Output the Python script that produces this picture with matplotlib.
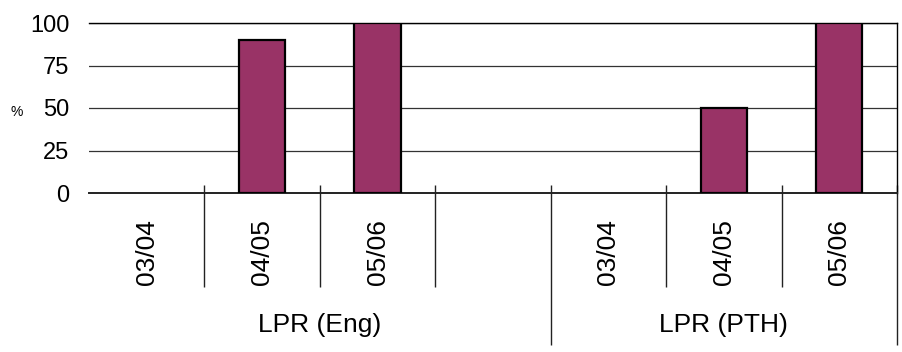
import matplotlib.pyplot as plt
from matplotlib.transforms import blended_transform_factory

plt.rcParams['font.family'] = ['Liberation Sans', 'DejaVu Sans']

# one slot per year, an empty slot closes the first group
years = ['03/04', '04/05', '05/06', '', '03/04', '04/05', '05/06']
values = [0, 90, 100, 0, 0, 50, 100]
groups = ['LPR (Eng)', 'LPR (PTH)']
group_spans = [(0, 3), (4, 6)]
yticks = [0, 25, 50, 75, 100]

fig = plt.figure(figsize=(9.03, 3.52), dpi=100)
ax = fig.add_axes([89 / 903, 159 / 352, 808 / 903, 170 / 352])

x = list(range(len(years)))
edges = ['black' if v > 0 else 'none' for v in values]
ax.bar(x, values, width=0.4, color='#993366', edgecolor=edges, linewidth=1.6, zorder=3)

ax.set_xlim(-0.5, len(years) - 0.5)
ax.set_ylim(0, 100)
ax.set_yticks(yticks)
ax.set_yticklabels([str(t) for t in yticks], fontsize=17)
ax.tick_params(axis='y', length=0, pad=14)
ax.set_xticks([])
ax.yaxis.grid(True, color='#333333', linewidth=0.9, zorder=0)
ax.set_axisbelow(True)

ax.spines['left'].set_visible(False)
ax.spines['top'].set_linewidth(1.0)
ax.spines['right'].set_linewidth(1.0)
ax.spines['bottom'].set_color('#222222')
ax.spines['bottom'].set_linewidth(1.4)

ax.text(-0.090, 0.476, '%', transform=ax.transAxes, fontsize=10, ha='center', va='center')

trans = blended_transform_factory(ax.transData, ax.transAxes)

# year labels and the short separators between slots
for i, lab in enumerate(years):
    if lab:
        ax.text(i, -0.347, lab, transform=trans, rotation=90, fontsize=19,
                ha='center', va='center')
for i in range(1, len(years) + 1):
    b = i - 0.5
    end = -0.894 if i in (4, len(years)) else -0.553
    ax.plot([b, b], [0.047, end], transform=trans, color='#222222',
            linewidth=1.0, clip_on=False, solid_capstyle='butt')

# group labels centred under their slots
for name, (s, e) in zip(groups, group_spans):
    ax.text((s + e) / 2, -0.776, name, transform=trans, fontsize=19,
            ha='center', va='center')

fig.savefig('out.png', dpi=100)
